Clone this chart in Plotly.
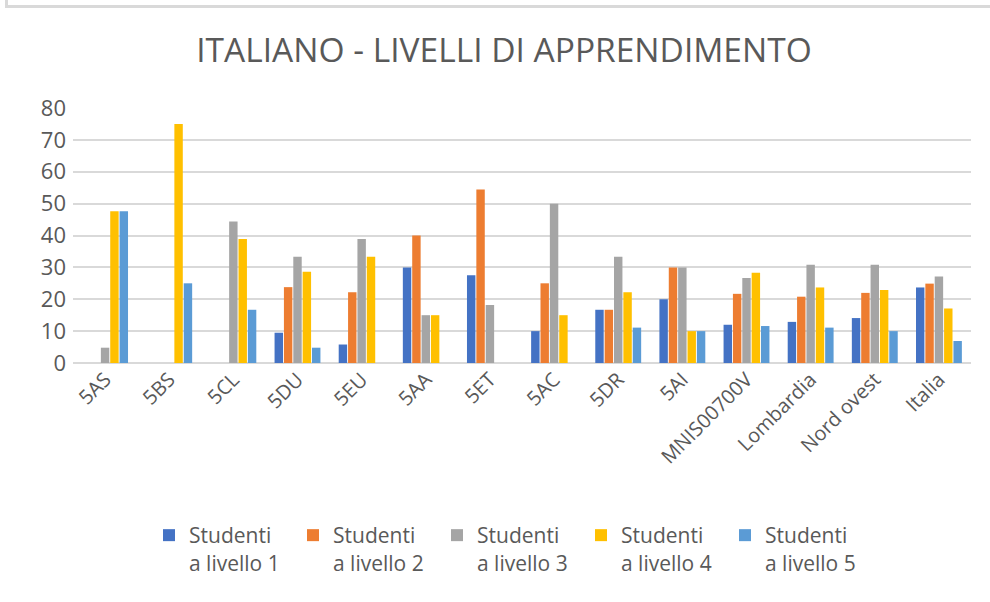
import plotly.graph_objects as go

categories = ["5AS", "5BS", "5CL", "5DU", "5EU", "5AA", "5ET", "5AC", "5DR", "5AI",
              "MNIS00700V", "Lombardia", "Nord ovest", "Italia"]
livello1 = [None, None, None, 9.5, 5.8, 30.0, 27.5, 10.0, 16.7, 20.0, 12.0, 12.9, 14.1, 23.7]
livello2 = [None, None, None, 23.8, 22.2, 40.0, 54.4, 25.0, 16.7, 30.0, 21.7, 20.8, 22.0, 24.9]
livello3 = [4.8, None, 44.4, 33.3, 38.9, 15.0, 18.2, 50.0, 33.3, 30.0, 26.7, 30.8, 30.8, 27.1]
livello4 = [47.6, 75.0, 38.9, 28.6, 33.3, 15.0, None, 15.0, 22.2, 10.0, 28.3, 23.7, 22.9, 17.1]
livello5 = [47.6, 25.0, 16.7, 4.8, None, None, None, None, 11.1, 10.0, 11.6, 11.1, 10.0, 6.9]

series_names = ["Studenti<br>a livello 1", "Studenti<br>a livello 2", "Studenti<br>a livello 3",
                "Studenti<br>a livello 4", "Studenti<br>a livello 5"]
series_values = [livello1, livello2, livello3, livello4, livello5]
colors = ["#4472C4", "#ED7D31", "#A5A5A5", "#FFC000", "#5B9BD5"]

FONT = "Open Sans"
TXT = "#595959"

fig = go.Figure()
for name, vals, col in zip(series_names, series_values, colors):
    fig.add_trace(go.Bar(x=categories, y=vals, name=name,
                         marker=dict(color=col, line=dict(width=0))))

W, H = 990, 602
L, R, T, B = 73, 19, 108, 239
pw = W - L - R
ph = H - T - B

def px_x(x):
    return (x - L) / pw

def px_y(y):
    return (H - B - y) / ph

fig.update_layout(
    width=W, height=H,
    margin=dict(l=L, r=R, t=T, b=B, autoexpand=False),
    paper_bgcolor="white", plot_bgcolor="white",
    barmode="group", bargap=0.27, bargroupgap=0.1,
    font=dict(family=FONT, color=TXT, size=18),
    title=dict(text="ITALIANO - LIVELLI DI APPRENDIMENTO", xref="container", x=504 / W,
               xanchor="center", y=1 - 50 / H, yanchor="middle",
               font=dict(family=FONT, size=33.5, color=TXT)),
    xaxis=dict(tickangle=-45, tickfont=dict(size=20, color=TXT), showgrid=False,
               showline=False, ticks=""),
    yaxis=dict(range=[0, 80], dtick=10, tickfont=dict(size=22, color=TXT),
               showgrid=True, gridcolor="#D9D9D9", gridwidth=2,
               zeroline=True, zerolinecolor="#D9D9D9", zerolinewidth=2,
               showline=False, ticks="", ticklabelstandoff=6),
    legend=dict(orientation="h", x=px_x(149), xanchor="left", y=px_y(515), yanchor="top",
                valign="top", entrywidth=99, entrywidthmode="pixels",
                font=dict(family=FONT, size=21, color=TXT), traceorder="normal"),
    shapes=[dict(type="rect", xref="paper", yref="paper",
                 x0=px_x(6.5), x1=px_x(1000), y0=px_y(-10), y1=px_y(6.5),
                 line=dict(color="#D9D9D9", width=3), fillcolor="rgba(0,0,0,0)", layer="below")],
)

fig.write_html("out.html", config={"displayModeBar": False},
               post_script="document.body.style.margin='0';document.body.style.overflow='hidden';")
